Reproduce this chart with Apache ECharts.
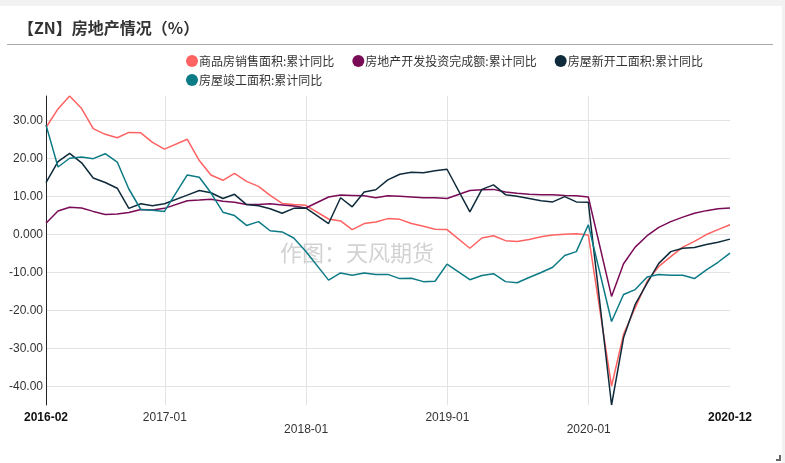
<!DOCTYPE html>
<html><head><meta charset="utf-8">
<script src="https://cdn.jsdelivr.net/npm/echarts@6/dist/echarts.min.js"></script>
<style>html,body{margin:0;padding:0;background:#fff}#c{width:785px;height:463px}</style>
</head><body><div id="c"></div>
<script>
const months = [
 '2016-02','2016-03','2016-04','2016-05','2016-06','2016-07','2016-08','2016-09','2016-10','2016-11','2016-12',
 '2017-02','2017-03','2017-04','2017-05','2017-06','2017-07','2017-08','2017-09','2017-10','2017-11','2017-12',
 '2018-02','2018-03','2018-04','2018-05','2018-06','2018-07','2018-08','2018-09','2018-10','2018-11','2018-12',
 '2019-02','2019-03','2019-04','2019-05','2019-06','2019-07','2019-08','2019-09','2019-10','2019-11','2019-12',
 '2020-02','2020-03','2020-04','2020-05','2020-06','2020-07','2020-08','2020-09','2020-10','2020-11','2020-12'
];
const salesArea = [
 28.2,33.1,36.5,33.2,27.9,26.4,25.5,26.9,26.8,24.3,22.5,
 25.1,19.5,15.7,14.3,16.1,14.0,12.7,10.3,8.2,7.9,7.7,
 4.1,3.6,1.3,2.9,3.3,4.2,4.0,2.9,2.2,1.4,1.3,
 -3.6,-0.9,-0.3,-1.6,-1.8,-1.3,-0.6,-0.1,0.1,0.2,-0.1,
 -39.9,-26.3,-19.3,-12.3,-8.4,-5.8,-3.3,-1.8,0.0,1.3,2.6
];
const investment = [
 3.0,6.2,7.2,7.0,6.1,5.3,5.4,5.8,6.6,6.5,6.9,
 8.9,9.1,9.3,8.8,8.5,7.9,7.9,8.1,7.8,7.5,7.0,
 9.9,10.4,10.3,10.2,9.7,10.2,10.1,9.9,9.7,9.7,9.5,
 11.6,11.8,11.9,11.2,10.9,10.6,10.5,10.5,10.3,10.2,9.9,
 -16.3,-7.7,-3.3,-0.3,1.9,3.4,4.6,5.6,6.3,6.8,7.0
];
const newStarts = [
 13.7,19.2,21.4,18.9,14.9,13.7,12.2,6.9,8.1,7.6,8.1,
 10.4,11.6,11.0,9.5,10.6,7.9,7.6,6.8,5.6,6.9,7.0,
 2.9,9.7,7.3,11.2,11.8,14.4,15.9,16.4,16.3,16.8,17.2,
 6.0,11.9,13.1,10.5,10.1,9.5,8.9,8.6,10.0,8.6,8.5,
 -44.9,-27.2,-18.4,-12.8,-7.6,-4.5,-3.6,-3.4,-2.6,-2.0,-1.2
];
const completed = [
 28.9,17.8,20.1,20.4,20.0,21.3,19.1,12.0,6.6,6.4,6.1,
 15.7,15.1,11.0,5.9,5.0,2.4,3.4,1.0,0.7,-0.9,-4.4,
 -12.0,-10.1,-10.7,-10.1,-10.5,-10.5,-11.6,-11.5,-12.4,-12.3,-7.8,
 -11.9,-10.8,-10.3,-12.4,-12.7,-11.3,-10.0,-8.6,-5.5,-4.5,2.6,
 -22.9,-15.8,-14.5,-11.2,-10.5,-10.7,-10.7,-11.6,-9.3,-7.3,-4.9
];
const seriesNames = ['商品房销售面积:累计同比','房地产开发投资完成额:累计同比','房屋新开工面积:累计同比','房屋竣工面积:累计同比'];
const seriesColors = ['#ff6262','#7a0b57','#0f2b3b','#0d7b86'];
const xYearTicks = ['2017-01','2018-01','2019-01','2020-01'];
const yTicks = [-40,-30,-20,-10,0,10,20,30];

function monthEnd(s){const p=s.split('-').map(Number);return Date.UTC(p[0],p[1],0);}
function monthStart(s){const p=s.split('-').map(Number);return Date.UTC(p[0],p[1]-1,1);}
const xMin = monthEnd(months[0]);
const xMax = monthEnd(months[months.length-1]);
const yearTickVals = xYearTicks.map(monthStart);
const xLabelVals = [xMin].concat(yearTickVals, [xMax]);

const allSeries = [salesArea, investment, newStarts, completed];
const FONT = "'Liberation Sans','Noto Sans CJK SC',sans-serif";
const CJK = "'Noto Sans CJK SC',sans-serif";
const legendText = {fontSize: 12, color: '#333', fontFamily: CJK, padding: [0, 0, 0, -4]};

const chart = echarts.init(document.getElementById('c'));
chart.setOption({
  animation: false,
  backgroundColor: '#fff',
  textStyle: {fontFamily: FONT},
  title: {
    text: '【ZN】房地产情况（%）', left: 18, top: 20, padding: 0,
    textStyle: {fontSize: 16, fontWeight: 'bold', color: '#333', fontFamily: CJK}
  },
  graphic: [
    {type:'rect', shape:{x:0,y:0,width:785,height:6}, style:{fill:'#f2f2f2'}, silent:true},
    {type:'rect', shape:{x:782,y:0,width:3,height:463}, style:{fill:'#f2f2f2'}, silent:true},
    {type:'line', shape:{x1:7,y1:44.5,x2:773,y2:44.5}, style:{stroke:'#aaaaaa', lineWidth:1}, silent:true},
    {type:'text', x:357, y:253, z:1, style:{text:'作图：天风期货', fill:'#d2d2d2', fontSize:22, align:'center', verticalAlign:'middle', fontFamily:CJK}, silent:true},
    {type:'rect', shape:{x:776,y:459,width:5,height:2}, style:{fill:'#666'}, silent:true},
    {type:'rect', shape:{x:779,y:455,width:2,height:6}, style:{fill:'#666'}, silent:true}
  ],
  legend: [
    {data: seriesNames.slice(0,3), left: 186, top: 55, padding: 0, icon: 'circle', itemWidth: 12, itemHeight: 12, itemGap: 18,
     textStyle: legendText},
    {data: seriesNames.slice(3), left: 186, top: 74, padding: 0, icon: 'circle', itemWidth: 12, itemHeight: 12, itemGap: 18,
     textStyle: legendText}
  ],
  grid: {left: 46, right: 55, top: 96, bottom: 58, containLabel: false},
  xAxis: {
    type: 'value', min: xMin, max: xMax, scale: true,
    axisLine: {show: false}, axisTick: {show: false, customValues: yearTickVals},
    splitLine: {show: true, lineStyle: {color: '#e3e3e3', width: 1}},
    axisLabel: {
      customValues: xLabelVals, margin: 7, fontSize: 12, color: '#333', lineHeight: 12,
      formatter: function (v) {
        const d = new Date(v);
        const s = d.getUTCFullYear() + '-' + String(d.getUTCMonth() + 1).padStart(2, '0');
        if (v === xMin || v === xMax) return '{b|' + s + '}';
        if (d.getUTCFullYear() % 2 === 0) return '\n' + s;
        return s;
      },
      rich: {b: {fontWeight: 'bold', color: '#111', fontSize: 12}}
    }
  },
  yAxis: {
    type: 'value', min: 'dataMin', max: 'dataMax',
    axisLine: {show: true, lineStyle: {color: '#222', width: 1}},
    axisTick: {show: false, customValues: yTicks},
    splitLine: {show: true, lineStyle: {color: '#e3e3e3', width: 1}},
    axisLabel: {
      customValues: yTicks, margin: 3, fontSize: 12, color: '#333',
      formatter: function (v) { return v === 0 ? '0.000' : v.toFixed(2); }
    }
  },
  series: allSeries.map(function (arr, i) {
    return {
      name: seriesNames[i], type: 'line', showSymbol: false, symbol: 'circle',
      color: seriesColors[i], lineStyle: {width: 1.5, color: seriesColors[i]},
      data: months.map(function (m, j) { return [monthEnd(m), arr[j]]; })
    };
  })
});
</script></body></html>
